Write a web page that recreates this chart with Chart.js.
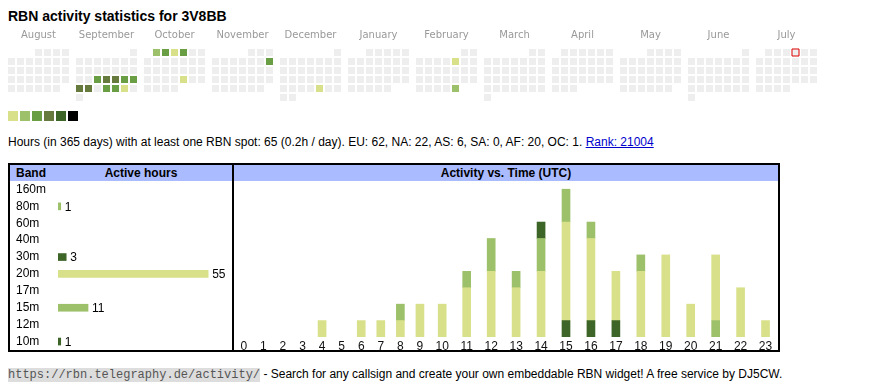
<!DOCTYPE html>
<html>
<head>
<meta charset="utf-8">
<title>RBN activity statistics for 3V8BB</title>
<script src="https://cdn.jsdelivr.net/npm/chart.js@4.4.1/dist/chart.umd.min.js"></script>
<style>
body { margin: 0; width: 870px; height: 390px; position: relative; overflow: hidden;
       font-family: "Liberation Sans", Arial, sans-serif; color: #000; background: #fff; }
h1 { position: absolute; left: 8px; top: 8px; margin: 0; font-size: 14px; line-height: 16px; white-space: nowrap; }
canvas { position: absolute; }
#legend { position: absolute; left: 8px; top: 111px; height: 10px; }
#legend span { float: left; width: 10px; height: 10px; margin-right: 2px; }
#stats { position: absolute; left: 8px; top: 135px; font-size: 12px; line-height: 14px; white-space: nowrap; }
#stats a { color: #00c; }
.box { position: absolute; top: 163px; height: 189px; border: 2px solid #000; box-sizing: border-box; }
.head { position: absolute; left: 0; right: 0; top: 0; height: 16px; background: #aabbff;
        font-weight: bold; font-size: 12px; line-height: 16px; white-space: nowrap; }
#footer { position: absolute; left: 8px; top: 366px; font-size: 12px; line-height: 16px; white-space: nowrap; }
#footer code { font-family: "Liberation Mono", monospace; font-size: 12px; background: #dddddd; color: #555; }
</style>
</head>
<body>
<h1>RBN activity statistics for 3V8BB</h1>
<canvas id="calendar" width="837" height="76" style="left:0;top:26px"></canvas>
<div id="legend"></div>
<div id="stats">Hours (in 365 days) with at least one RBN spot: 65 (0.2h / day). EU: 62, NA: 22, AS: 6, SA: 0, AF: 20, OC: 1. <a href="#">Rank: 21004</a></div>

<div class="box" style="left:8px;width:226px">
  <div class="head"><span style="position:absolute;left:6px">Band</span><span style="position:absolute;left:131px;transform:translateX(-50%)">Active hours</span></div>
</div>
<div class="box" style="left:232px;width:548px">
  <div class="head" style="text-align:center">Activity vs. Time (UTC)</div>
</div>
<canvas id="bands" width="214" height="169" style="left:16px;top:181px"></canvas>
<canvas id="hours" width="544" height="169" style="left:234px;top:181px"></canvas>

<div id="footer"><code>https://rbn.telegraphy.de/activity/</code> - Search for any callsign and create your own embeddable RBN widget! A free service by DJ5CW.</div>

<script>
// Calendar (Aug 2024 - Jul 2025)
const months = ['August', 'September', 'October', 'November', 'December', 'January',
                'February', 'March', 'April', 'May', 'June', 'July'];
const startYear = 2024, startMonth = 7;
const activeDays = ['2024-09-18', '2024-09-19', '2024-09-20', '2024-09-21', '2024-09-22',
                    '2024-09-23', '2024-09-24', '2024-09-26', '2024-09-27', '2024-09-28',
                    '2024-10-01', '2024-10-02', '2024-10-03', '2024-10-04', '2024-10-25',
                    '2024-11-10', '2024-12-27', '2025-02-07', '2025-02-28'];
const activeLevels = [3, 4, 4, 3, 3, 4, 4, 3, 3, 1, 2, 3, 1, 3, 1, 3, 1, 1, 2];
const today = '2025-07-04';

// Bands
const bands = ['160m', '80m', '60m', '40m', '30m', '20m', '17m', '15m', '12m', '10m'];
const bandHours = [0, 1, 0, 0, 3, 55, 0, 11, 0, 1];

// Activity vs. time, per band
const utcHours = ['0', '1', '2', '3', '4', '5', '6', '7', '8', '9', '10', '11',
                  '12', '13', '14', '15', '16', '17', '18', '19', '20', '21', '22', '23'];
const hours80m = [0, 0, 0, 0, 0, 0, 0, 0, 0, 0, 0, 0, 0, 0, 0, 0, 0, 0, 0, 0, 0, 1, 0, 0];
const hours30m = [0, 0, 0, 0, 0, 0, 0, 0, 0, 0, 0, 0, 0, 0, 0, 1, 1, 1, 0, 0, 0, 0, 0, 0];
const hours20m = [0, 0, 0, 0, 1, 0, 1, 1, 1, 2, 2, 3, 4, 3, 4, 6, 5, 3, 4, 5, 2, 4, 3, 1];
const hours15m = [0, 0, 0, 0, 0, 0, 0, 0, 1, 0, 0, 1, 2, 1, 2, 2, 1, 0, 1, 0, 0, 0, 0, 0];
const hours10m = [0, 0, 0, 0, 0, 0, 0, 0, 0, 0, 0, 0, 0, 0, 1, 0, 0, 0, 0, 0, 0, 0, 0, 0];

// colours
const levelColors = ['#eeeeee', '#d9e08a', '#9dc06a', '#6a9e45', '#677a3d', '#3d6527', '#000000'];
const bandColors = ['#d9e08a', '#9dc06a', '#d9e08a', '#d9e08a', '#3d6527', '#d9e08a', '#d9e08a', '#9dc06a', '#d9e08a', '#3d6527'];

const FONT = '"Liberation Sans", Arial, sans-serif';
const CELL = 9;                 // px between cell centres
const MONTH_STRIDE = 68 / CELL; // month block width in cells

// empty bars would still show as hairlines
const noZero = arr => arr.map(v => v === 0 ? null : v);

// legend squares
levelColors.slice(1).forEach(c => {
    const s = document.createElement('span');
    s.style.background = c;
    document.getElementById('legend').appendChild(s);
});

// build calendar cells
function dayKey(y, m, d) {
    return y + '-' + String(m + 1).padStart(2, '0') + '-' + String(d).padStart(2, '0');
}
const cells = [], cellColors = [], todayCell = [];
months.forEach((name, i) => {
    const y = startYear + Math.floor((startMonth + i) / 12);
    const mo = (startMonth + i) % 12;
    const first = (new Date(y, mo, 1).getDay() + 6) % 7; // monday first
    const days = new Date(y, mo + 1, 0).getDate();
    for (let d = 1; d <= days; d++) {
        const slot = first + d - 1;
        const pt = { x: i * MONTH_STRIDE + slot % 7, y: Math.floor(slot / 7) };
        const k = dayKey(y, mo, d);
        const idx = activeDays.indexOf(k);
        cells.push(pt);
        cellColors.push(levelColors[idx < 0 ? 0 : activeLevels[idx]]);
        if (k === today) todayCell.push(pt);
    }
});

const monthLabels = {
    id: 'monthLabels',
    afterDraw(chart) {
        const ctx = chart.ctx, xs = chart.scales.x;
        ctx.save();
        ctx.font = '10px "DejaVu Sans", sans-serif';
        ctx.fillStyle = '#999';
        ctx.textAlign = 'center';
        ctx.textBaseline = 'middle';
        months.forEach((m, i) => ctx.fillText(m, xs.getPixelForValue(i * MONTH_STRIDE + 3), 9.5));
        ctx.restore();
    }
};

const calX0 = -11.5 / CELL, calY0 = -26.5 / CELL;
new Chart(document.getElementById('calendar'), {
    type: 'scatter',
    data: {
        datasets: [{
            data: todayCell,
            pointStyle: 'rect',
            pointRadius: 4.95,
            pointBackgroundColor: '#eeeeee',
            pointBorderColor: '#dd0000',
            pointBorderWidth: 1
        }, {
            data: cells,
            pointStyle: 'rect',
            pointRadius: 4.95,
            pointBackgroundColor: cellColors,
            pointBorderWidth: 0
        }]
    },
    options: {
        responsive: false,
        animation: false,
        events: [],
        layout: { padding: 0, autoPadding: false },
        plugins: { legend: { display: false }, tooltip: { enabled: false } },
        scales: {
            x: { type: 'linear', display: false, bounds: 'data', min: calX0, max: calX0 + 837 / CELL },
            y: { type: 'linear', display: false, bounds: 'data', reverse: true, min: calY0, max: calY0 + 76 / CELL }
        }
    },
    plugins: [monthLabels]
});

// bands chart
const barValueLabels = {
    id: 'barValueLabels',
    afterDatasetsDraw(chart) {
        const ctx = chart.ctx;
        ctx.save();
        ctx.font = '12px ' + FONT;
        ctx.fillStyle = '#000';
        ctx.textBaseline = 'middle';
        chart.getDatasetMeta(0).data.forEach((bar, i) => {
            if (bandHours[i] > 0) ctx.fillText(bandHours[i], bar.x + 4, bar.y + 1);
        });
        ctx.restore();
    }
};

new Chart(document.getElementById('bands'), {
    type: 'bar',
    data: {
        labels: bands,
        datasets: [{ data: noZero(bandHours), backgroundColor: bandColors, barThickness: 7, borderWidth: 0 }]
    },
    options: {
        indexAxis: 'y',
        responsive: false,
        animation: false,
        events: [],
        layout: { padding: 0, autoPadding: false },
        plugins: { legend: { display: false }, tooltip: { enabled: false } },
        scales: {
            x: { display: false, min: 0, max: 63 },
            y: {
                grid: { display: false, drawTicks: false },
                border: { display: false },
                ticks: { font: { family: FONT, size: 12 }, color: '#000', crossAlign: 'far', padding: 0, autoSkip: false },
                afterFit(scale) {
                    scale.width = 42;
                    scale.paddingTop = 0;
                    scale.paddingBottom = 0;
                }
            }
        }
    },
    plugins: [barValueLabels]
});

// hour columns sized like table cells: wider where the label is wider
const TICK_FONT = '12px ' + FONT;
const HOUR_BAR = 8, CELL_PAD = 11.5;
class TableColumnScale extends Chart.CategoryScale {
    columns() {
        const ctx = this.ctx;
        ctx.save();
        ctx.font = TICK_FONT;
        const natural = this.getLabels().map(l => Math.max(ctx.measureText(String(l)).width, HOUR_BAR) + CELL_PAD);
        ctx.restore();
        const k = this.width / natural.reduce((a, b) => a + b, 0);
        let x = this.left;
        return natural.map(w => { const c = x + w * k / 2; x += w * k; return c; });
    }
    getPixelForValue(value) {
        const i = typeof value === 'number' ? value : this.parse(value);
        const c = this.columns()[i];
        return c === undefined ? NaN : c;
    }
}
TableColumnScale.id = 'tablecolumns';
TableColumnScale.defaults = { ticks: { callback: Chart.CategoryScale.defaults.ticks.callback } };
Chart.register(TableColumnScale);

const hourSeries = [hours80m, hours30m, hours20m, hours15m, hours10m];
const hourColors = [bandColors[1], bandColors[4], bandColors[5], bandColors[7], bandColors[9]];
const hourBands = [bands[1], bands[4], bands[5], bands[7], bands[9]];

new Chart(document.getElementById('hours'), {
    type: 'bar',
    data: {
        labels: utcHours,
        datasets: hourSeries.map((d, i) => ({
            label: hourBands[i], data: noZero(d), backgroundColor: hourColors[i], barThickness: 8, borderWidth: 0
        }))
    },
    options: {
        responsive: false,
        animation: false,
        events: [],
        layout: { padding: 0, autoPadding: false },
        plugins: { legend: { display: false }, tooltip: { enabled: false } },
        scales: {
            x: {
                type: 'tablecolumns',
                stacked: true,
                grid: { display: false, drawTicks: false },
                border: { display: false },
                ticks: { font: { family: FONT, size: 12 }, color: '#111', padding: 2, autoSkip: false, maxRotation: 0 },
                afterFit(scale) { scale.height = 13; }
            },
            y: { stacked: true, display: false, min: 0, max: 9.5 }
        }
    }
});
</script>
</body>
</html>
